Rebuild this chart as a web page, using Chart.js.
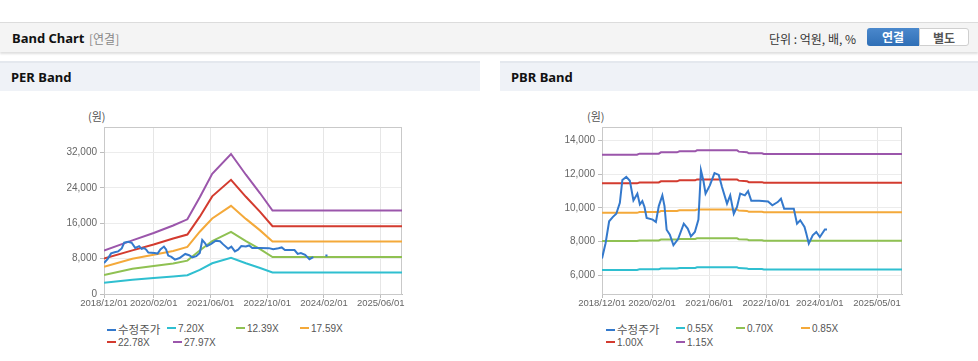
<!DOCTYPE html>
<html>
<head>
<meta charset="utf-8">
<script src="https://cdn.jsdelivr.net/npm/chart.js@4.4.1/dist/chart.umd.min.js"></script>
<style>
  body { margin: 0; background: #fff; font-family: "Noto Sans", "Noto Sans CJK KR", sans-serif; width: 978px; height: 361px; overflow: hidden; position: relative; }
  .topbar { position: absolute; left: 0; top: 22px; width: 978px; height: 29px; background: #f4f4f4; border-top: 1px solid #dcdcdc; box-shadow: 0 2px 2px rgba(0,0,0,0.13); }
  .topbar .title { position: absolute; left: 12px; top: 6px; font-size: 13px; font-weight: bold; color: #111; }
  .topbar .sub { position: absolute; left: 89px; top: 7px; font-size: 12px; color: #888; font-family: "Noto Sans CJK KR", sans-serif; }
  .topbar .unit { position: absolute; left: 769px; top: 7px; font-size: 12px; color: #333; font-family: "Noto Sans CJK KR", sans-serif; }
  .btn { position: absolute; top: 5px; height: 18px; line-height: 18px; text-align: center; font-size: 12px; font-weight: bold; font-family: "Noto Sans CJK KR", sans-serif; box-sizing: border-box; }
  .btn.on { left: 867px; width: 52px; background: linear-gradient(#4a88cc, #2f6fb6); color: #fff; border-radius: 3px 0 0 3px; }
  .btn.off { left: 919px; width: 50px; background: #fff; color: #555; border: 1px solid #cfcfcf; border-radius: 0 3px 3px 0; }
  .panelhead { position: absolute; top: 61px; height: 28px; background: #eff2f7; border-top: 2px solid #e4e8ee; }
  .panelhead span { position: absolute; left: 11px; top: 5px; font-size: 13px; font-weight: bold; color: #111; }
  .unitlabel { position: absolute; top: 108px; font-size: 11px; color: #555; font-family: "Noto Sans CJK KR", sans-serif; }
  .chartbox { position: absolute; top: 100px; }
  .legend { position: absolute; font-size: 10px; color: #555; font-family: "Liberation Sans", "Noto Sans CJK KR", sans-serif; }
  .legend div { position: absolute; white-space: nowrap; height: 14px; line-height: 14px; }
  .legend i { display: inline-block; width: 9px; height: 2px; vertical-align: middle; margin-right: 2px; position: relative; top: -1px; }
  .legend .kr { font-size: 11.5px; font-family: "Noto Sans CJK KR", sans-serif; }
</style>
</head>
<body>
<div class="topbar">
  <span class="title">Band Chart</span>
  <span class="sub">[연결]</span>
  <span class="unit">단위 : 억원, 배, %</span>
  <div class="btn on">연결</div>
  <div class="btn off">별도</div>
</div>

<div class="panelhead" style="left:0;width:480px"><span>PER Band</span></div>
<div class="panelhead" style="left:500px;width:478px"><span>PBR Band</span></div>

<div class="unitlabel" style="left:88px">(원)</div>
<div class="unitlabel" style="left:587px">(원)</div>

<div class="chartbox" style="left:0"><canvas id="perChart" width="480" height="214"></canvas></div>
<div class="chartbox" style="left:500px"><canvas id="pbrChart" width="478" height="214"></canvas></div>

<div class="legend" id="perLegend" style="left:107px;top:322px"></div>
<div class="legend" id="pbrLegend" style="left:606px;top:322px"></div>

<script>
// months counted from 2018/12/01
const perTickMonths = [0, 14, 30, 46, 62, 78];
const perTickLabels = ["2018/12/01", "2020/02/01", "2021/06/01", "2022/10/01", "2024/02/01", "2025/06/01"];
const pbrTickMonths = [0, 14, 30, 46, 61, 77];
const pbrTickLabels = ["2018/12/01", "2020/02/01", "2021/06/01", "2022/10/01", "2024/01/01", "2025/05/01"];

const perYTicks = [0, 8000, 16000, 24000, 32000];
const pbrYTicks = [6000, 8000, 10000, 12000, 14000];

// 수정주가
const priceMonths = [0, 1, 2, 3, 4, 5, 5.7, 6.8, 7.8, 8.8, 9.9, 10.6, 11.3, 11.9, 12.5, 14.2, 15.1, 15.9, 16.9, 17.5, 18.1, 19, 20, 21.3, 22.9, 24, 24.9, 26, 27, 27.7, 28.4, 29, 30.2, 31.5, 32.7, 33.6, 35, 35.9, 36.9, 37.8, 38.7, 40, 40.9, 41.8, 44, 46.5, 47.7, 49.2, 50.1, 51, 53.7, 54.6, 55.5, 56.7, 57.2, 57.9, 59, 60, 61, 62.4, 63];
const priceValues = [7000, 7900, 9200, 9450, 9650, 10300, 11650, 11830, 11600, 10440, 10840, 10200, 10400, 10050, 9400, 9300, 9160, 10100, 10740, 10100, 8700, 8400, 7780, 8150, 9060, 8770, 8300, 8570, 9300, 12220, 11600, 10840, 11330, 12060, 11950, 11230, 10250, 10740, 9650, 10050, 10840, 10740, 10990, 10420, 10420, 10380, 10150, 10340, 10540, 9950, 9950, 9060, 9260, 8860, 8470, 7880, 8370, 8570, 8270, 8710, 8710];
const perPriceGap = [60, 61];

// PER bands
const perBandMonths = [0, 8, 14, 19.5, 23.5, 27, 30.5, 35.8, 40, 44, 47.5, 84];
const per720 = [2520, 3200, 3600, 3980, 4250, 5450, 6950, 8180, 6950, 5880, 4860, 4860];
const per1239 = [4300, 5700, 6350, 6900, 7550, 9850, 12000, 14050, 11950, 10150, 8380, 8380];
const per1759 = [6150, 7980, 8900, 9750, 10650, 14100, 17100, 19950, 17000, 14400, 11900, 11900];
const per2278 = [8020, 9880, 11200, 12550, 13450, 17500, 22100, 25850, 22000, 18600, 15350, 15350];
const per2797 = [9850, 12150, 13800, 15500, 16900, 21900, 27200, 31700, 27000, 22800, 18900, 18900];
const perLabels = ["수정주가", "7.20X", "12.39X", "17.59X", "22.78X", "27.97X"];

// PBR bands
const pbrBandMonths = [0, 9.8, 10.5, 15.9, 16.5, 21, 21.7, 26.1, 26.6, 37.8, 38.3, 40.6, 41.1, 44.8, 45.3, 84];
const pbr055 = [6320, 6320, 6355, 6355, 6400, 6400, 6435, 6435, 6470, 6470, 6425, 6405, 6365, 6365, 6340, 6340];
const pbr070 = [8030, 8030, 8065, 8065, 8115, 8115, 8155, 8155, 8190, 8190, 8140, 8125, 8080, 8080, 8050, 8050];
const pbr085 = [9700, 9700, 9745, 9745, 9810, 9810, 9855, 9855, 9900, 9900, 9840, 9815, 9760, 9760, 9735, 9735];
const pbr100 = [11450, 11450, 11500, 11500, 11570, 11570, 11630, 11630, 11680, 11680, 11610, 11580, 11520, 11520, 11485, 11485];
const pbr115 = [13150, 13150, 13210, 13210, 13290, 13290, 13350, 13350, 13410, 13410, 13330, 13300, 13230, 13230, 13190, 13190];
const pbrLabels = ["수정주가", "0.55X", "0.70X", "0.85X", "1.00X", "1.15X"];

const colors = ["#3479cc", "#2fbfd0", "#8fc152", "#f4a93a", "#d33b2f", "#9b56ab"];

// legend offsets (style only)
const perLegendPos = [[0, 0], [60, 0], [129, 0], [193, 0], [0, 14], [66, 14]];
const pbrLegendPos = [[0, 0], [70, 0], [130, 0], [195, 0], [0, 14], [70, 14]];

function line(label, months, values, color) {
    return {
        label: label,
        data: months.map((m, i) => ({ x: m, y: values[i] })),
        borderColor: color,
        backgroundColor: color,
        borderWidth: 2,
        pointRadius: 0,
        tension: 0,
        fill: false,
        spanGaps: false
    };
}

const frame = {
    id: 'frame',
    beforeDatasetsDraw(chart) {
        const a = chart.chartArea, c = chart.ctx;
        c.save();
        c.strokeStyle = '#c9c9c9';
        c.lineWidth = 1;
        c.strokeRect(Math.round(a.left) + 0.5, Math.round(a.top) + 0.5, Math.round(a.width) - 1, Math.round(a.height));
        c.restore();
    }
};

function bandChart(canvasId, datasets, yMin, yMax, yTicks, xTicks, xLabels, yAxisWidth, rightPad) {
    new Chart(document.getElementById(canvasId), {
        type: 'line',
        data: { datasets: datasets },
        options: {
            responsive: false,
            animation: false,
            devicePixelRatio: 1,
            layout: { padding: { left: 0, right: rightPad, top: 27, bottom: 0 } },
            plugins: { legend: { display: false }, tooltip: { enabled: false } },
            scales: {
                x: {
                    type: 'linear',
                    min: 0,
                    max: 84,
                    afterBuildTicks: (axis) => { axis.ticks = xTicks.map(v => ({ value: v })); },
                    afterFit: (axis) => { axis.height = 20; },
                    grid: { color: '#e6e6e6', tickColor: '#bdbdbd', tickLength: 4 },
                    border: { color: '#bdbdbd' },
                    ticks: {
                        padding: 0,
                        maxRotation: 0,
                        autoSkip: false,
                        color: '#666',
                        font: { family: 'Liberation Sans', size: 9.5 },
                        callback: (v) => xLabels[xTicks.indexOf(v)]
                    }
                },
                y: {
                    min: yMin,
                    max: yMax,
                    afterBuildTicks: (axis) => { axis.ticks = yTicks.map(v => ({ value: v })); },
                    afterFit: (axis) => { axis.width = yAxisWidth; },
                    grid: { color: '#ececec', tickColor: '#bdbdbd', tickLength: 4 },
                    border: { color: '#bdbdbd' },
                    ticks: {
                        padding: 3,
                        color: '#666',
                        font: { family: 'Liberation Sans', size: 10 },
                        callback: (v) => v.toLocaleString('en-US')
                    }
                }
            }
        },
        plugins: [frame]
    });
}

function htmlLegend(id, labels, pos) {
    const box = document.getElementById(id);
    labels.forEach((t, i) => {
        const d = document.createElement('div');
        d.style.left = pos[i][0] + 'px';
        d.style.top = pos[i][1] + 'px';
        const icon = document.createElement('i');
        icon.style.background = colors[i];
        const s = document.createElement('span');
        s.textContent = t;
        if (i === 0) s.className = 'kr';
        d.appendChild(icon);
        d.appendChild(s);
        box.appendChild(d);
    });
}

const perPrice = priceValues.map((v, i) => perPriceGap.includes(priceMonths[i]) ? null : v);
const perBands = [per720, per1239, per1759, per2278, per2797];
const perSets = [line(perLabels[0], priceMonths, perPrice, colors[0])]
    .concat(perBands.map((b, i) => line(perLabels[i + 1], perBandMonths, b, colors[i + 1])));

const pbrBands = [pbr055, pbr070, pbr085, pbr100, pbr115];
const pbrSets = [line(pbrLabels[0], priceMonths, priceValues, colors[0])]
    .concat(pbrBands.map((b, i) => line(pbrLabels[i + 1], pbrBandMonths, b, colors[i + 1])));

bandChart("perChart", perSets, 0, 37800, perYTicks, perTickMonths, perTickLabels, 104, 78);
bandChart("pbrChart", pbrSets, 4890, 14790, pbrYTicks, pbrTickMonths, pbrTickLabels, 102, 76);

htmlLegend("perLegend", perLabels, perLegendPos);
htmlLegend("pbrLegend", pbrLabels, pbrLegendPos);
</script>
</body>
</html>
